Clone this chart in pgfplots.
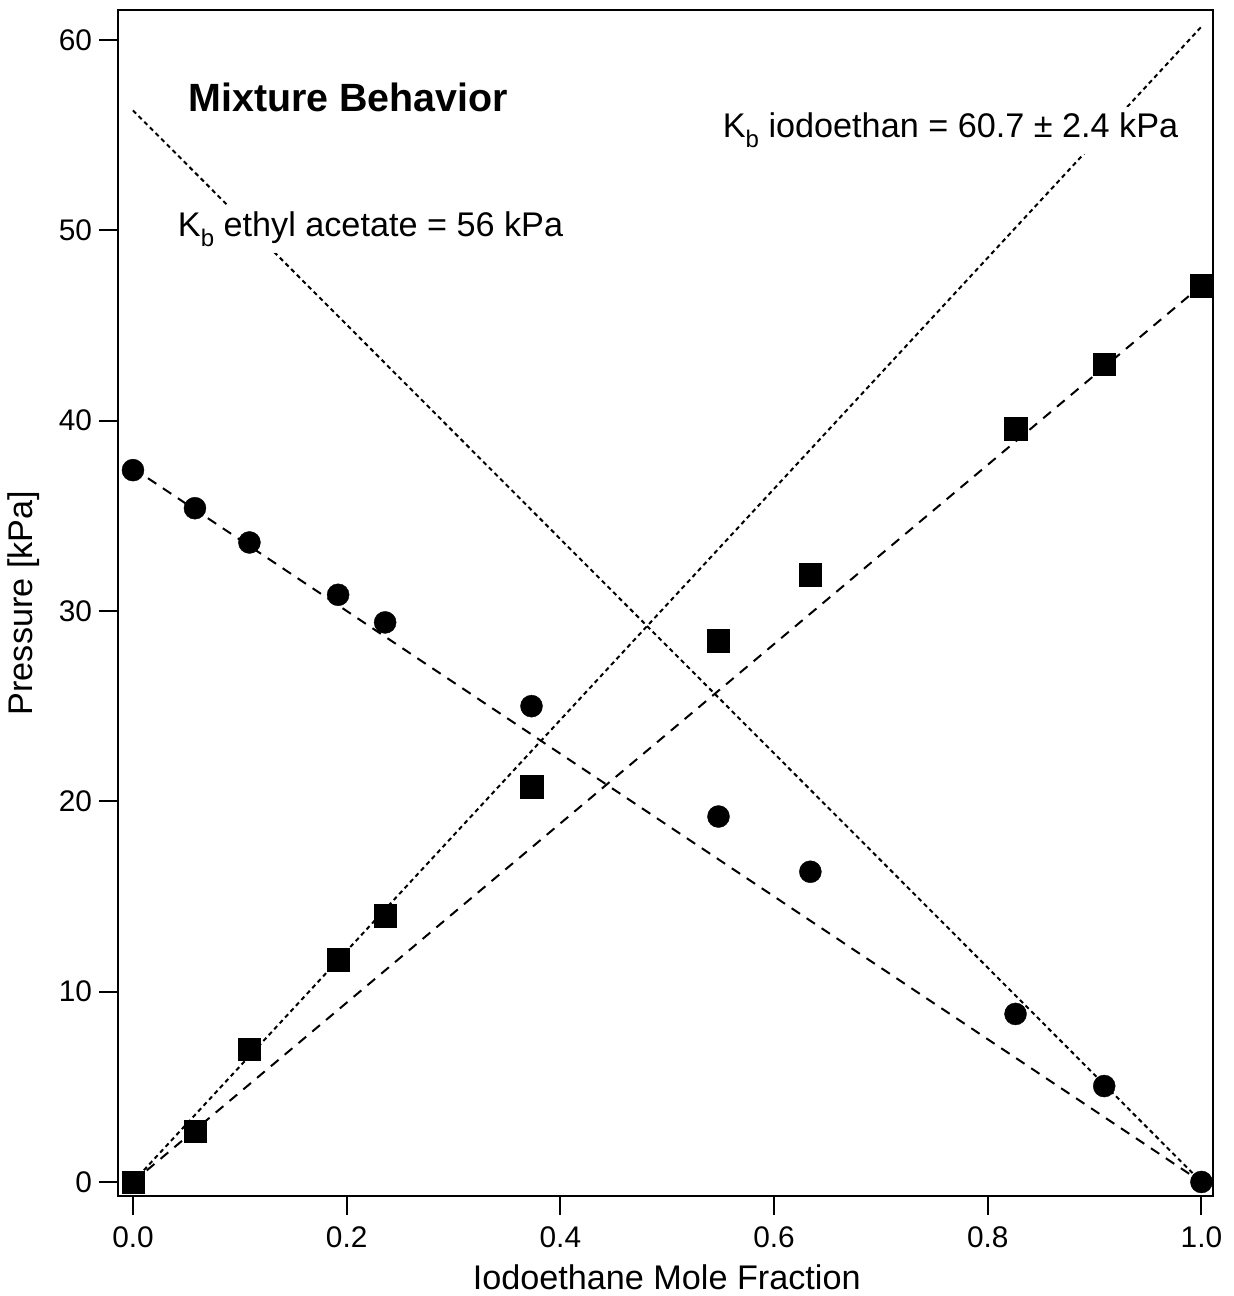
\documentclass[border=0pt]{standalone}
\usepackage{pgfplots}
\pgfplotsset{compat=1.18}
\usepackage{fontspec}
\setmainfont{Liberation Sans}
\newcommand{\Kb}{K\raisebox{-5pt}{\fontsize{12}{12}\selectfont b}}
\begin{document}
\begin{tikzpicture}
\begin{axis}[name=ax,
  width=547.5pt, height=592.5pt, scale only axis,
  xmin=-0.014, xmax=1.011, ymin=-0.72, ymax=61.55,
  axis line style={line width=1pt},
  tick align=outside, major tick length=9.5pt,
  tick style={line width=1pt, black},
  xtick={0,0.2,0.4,0.6,0.8,1.0}, ytick={0,10,20,30,40,50,60},
  xtick pos=bottom, ytick pos=left,
  /pgf/number format/assume math mode=true,
  x tick label style={yshift=-2.5pt, /pgf/number format/fixed, /pgf/number format/fixed zerofill, /pgf/number format/precision=1},
  tick label style={font=\fontsize{14.9}{17}\selectfont},
  label style={font=\fontsize{17.1}{20}\selectfont},
  xlabel={Iodoethane Mole Fraction},
  ylabel={Pressure [kPa]},
  xlabel style={at={(axis description cs:0.501,-0.069)}, anchor=center},
  ylabel style={at={(axis description cs:-0.086,0.5)}, anchor=center},
  clip=false,
]
% fits
\addplot[line width=1pt, dash pattern=on 2.2pt off 1.8pt] coordinates {(0,56.3) (1,0)};
\addplot[line width=1pt, dash pattern=on 2.2pt off 1.8pt] coordinates {(0,0) (1,60.7)};
\addplot[line width=1pt, dash pattern=on 5pt off 4pt] coordinates {(0,37.5) (1,0)};
\addplot[line width=1pt, dash pattern=on 5pt off 4pt] coordinates {(0,0) (1,47.1)};
% ethyl acetate (circles)
\addplot[only marks, mark=*, mark size=5.5pt, mark options={draw=black, fill=black, line width=0.2pt}] coordinates {
(0.000,37.4) (0.058,35.4) (0.109,33.6) (0.192,30.85) (0.236,29.4)
(0.373,25.0) (0.548,19.2) (0.634,16.3) (0.826,8.83) (0.909,5.04) (1.000,0.0)};
% iodoethane (squares)
\addplot[only marks, mark=square*, mark size=5.6pt, mark options={draw=black, fill=black, line width=0.2pt}] coordinates {
(0.000,0.0) (0.058,2.68) (0.109,6.99) (0.192,11.67) (0.236,13.98)
(0.373,20.76) (0.548,28.43) (0.634,31.9) (0.826,39.57) (0.909,42.98) (1.000,47.08)};
\node[anchor=base west, inner sep=0pt, font=\bfseries\fontsize{19.7}{22}\selectfont] at (axis cs:0.0515,56.24) {Mixture Behavior};
\node[anchor=base west, fill=white, inner xsep=2pt, inner ysep=3pt, font=\fontsize{17.1}{20}\selectfont] at (axis cs:0.038,49.67) {\Kb{} ethyl acetate = 56 kPa};
\node[anchor=base west, fill=white, inner xsep=2pt, inner ysep=3pt, font=\fontsize{17.1}{20}\selectfont] at (axis cs:0.548,54.86) {\Kb{} iodoethan = 60.7 ± 2.4 kPa};
\end{axis}
\pgfresetboundingbox
\path ([xshift=-59pt,yshift=-50.15pt]ax.south west) rectangle ([xshift=10pt,yshift=5.25pt]ax.north east);
\end{tikzpicture}
\end{document}
